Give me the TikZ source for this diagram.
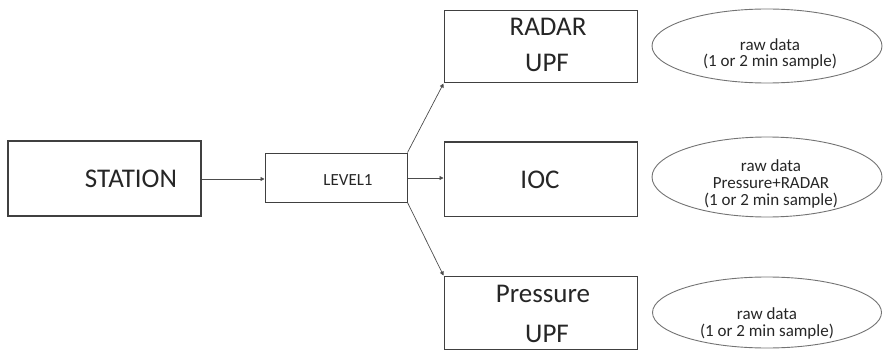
\documentclass[tikz,border=0pt]{standalone}
\usepackage{fontspec}
\setmainfont{Carlito}
\usetikzlibrary{arrows.meta,shapes.geometric}
\begin{document}
\begin{tikzpicture}[x=1pt,y=-1pt,
  boxnode/.style={draw=black!75,line width=1pt,rectangle,inner sep=0pt},
  ovalnode/.style={draw=black!55,line width=0.9pt,ellipse,inner sep=0pt},
  bigtext/.style={font=\fontsize{27}{30}\selectfont,inner sep=0pt,anchor=base,text=black!85},
  smalltext/.style={font=\fontsize{17}{20}\selectfont,inner sep=0pt,anchor=base,text=black!85},
  conn/.style={draw=black!70,line width=0.7pt,-{Triangle[length=4pt,width=4pt]}}]
\useasboundingbox (0,0) rectangle (883,350);
% boxes
\node[boxnode,line width=1.4pt,minimum width=193pt,minimum height=75pt] (station) at (104.5,178.5) {};
\node[boxnode,minimum width=142pt,minimum height=49pt] (level) at (336,177.5) {};
\node[boxnode,minimum width=193pt,minimum height=72pt] (radar) at (540.5,47) {};
\node[boxnode,minimum width=193pt,minimum height=74pt] (ioc) at (540.5,179) {};
\node[boxnode,minimum width=193pt,minimum height=73pt] (press) at (540.5,312.5) {};
% ellipses
\node[ovalnode,minimum width=230pt,minimum height=74pt] (e1) at (767,46) {};
\node[ovalnode,minimum width=230pt,minimum height=80pt] (e2) at (767,177) {};
\node[ovalnode,minimum width=229pt,minimum height=71pt] (e3) at (767,312.5) {};
% texts
\node[bigtext] (tstation) at (131,187) {STATION};
\node[smalltext] (tlevel) at (348,185) {LEVEL1};
\node[bigtext] (tradar) at (548,36) {RADAR};
\node[bigtext] (tupf1) at (547,72) {UPF};
\node[bigtext] (tioc) at (540,188) {IOC};
\node[bigtext] (tpress) at (543,302) {Pressure};
\node[bigtext] (tupf2) at (547,342) {UPF};
\node[smalltext] (r1a) at (770,51) {raw data};
\node[smalltext] (r1b) at (770,67) {(1 or 2 min sample)};
\node[smalltext] (r2a) at (771,171.5) {raw data};
\node[smalltext] (r2b) at (771,188) {Pressure+RADAR};
\node[smalltext] (r2c) at (771,205) {(1 or 2 min sample)};
\node[smalltext] (r3a) at (767,319) {raw data};
\node[smalltext] (r3b) at (767,336.5) {(1 or 2 min sample)};
% connectors
\draw[conn] (station.east |- 0,179) -- (level.west |- 0,179);
\draw[conn] (level.east |- 0,178) -- (ioc.west |- 0,178);
\draw[conn] (level.north east) -- (radar.south west);
\draw[conn] (level.south east) -- (press.north west);
\end{tikzpicture}
\end{document}
